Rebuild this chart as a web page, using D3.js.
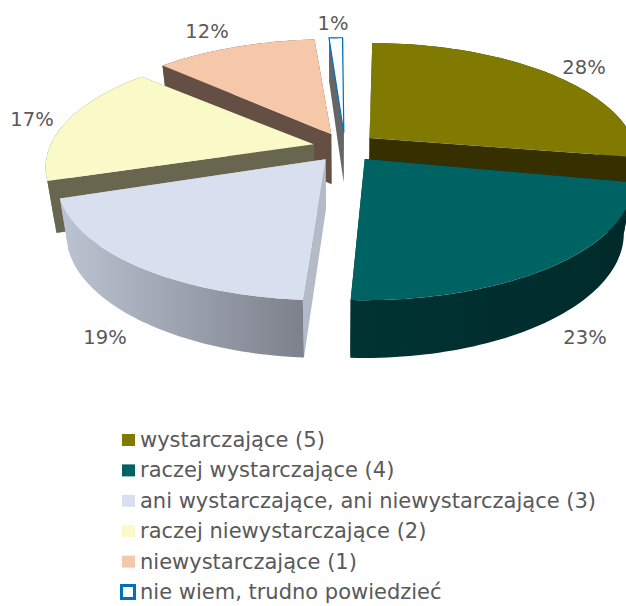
<!DOCTYPE html>
<html><head><meta charset="utf-8">
<script src="https://cdn.jsdelivr.net/npm/d3@7/dist/d3.min.js"></script>
<style>html,body{margin:0;padding:0;background:#fff;overflow:hidden}svg{display:block}
text{font-family:"DejaVu Sans",sans-serif;fill:#595959}</style></head>
<body><script>
const categories = ["wystarczające (5)","raczej wystarczające (4)","ani wystarczające, ani niewystarczające (3)","raczej niewystarczające (2)","niewystarczające (1)","nie wiem, trudno powiedzieć"];
const values = [28,23,19,17,12,1];
const topColors = ["#807b00","#006363","#d8dfee","#fafac8","#f5c8a9","#ffffff"];
const radialWallColors = ["#363000","#002b2b","#b3bac8","#69664f","#654f44","#666666"];
const rimStart = ["#363000","#013333","#bcc4d2","#69664f","#654f44","#666666"];
const rimEnd = ["#363000","#002a2a","#7d818c","#69664f","#654f44","#666666"];
const labelPos = [[584,67],[585,337],[105,337],[32,119],[207,31],[333,23]];

const W=626,H=606,cx=345,cy=147.5,R=263,Ry=113.6,k=0.195,depth=50,qx=0.969,qy=1.055,xc=340;
const explodeX=32/R,explodeY=14.7/Ry,rot=-0.3*Math.PI/180,trim=0.98;
const svg=d3.select("body").append("svg").attr("width",W).attr("height",H);
const defs=svg.append("defs");
const sx=d3.scaleLinear().domain([-1,1]).range([cx-R,cx+R]);
const sy=d3.scaleLinear().domain([-1,1]).range([cy-Ry,cy+Ry]);
const arcs=d3.pie().value(d=>d).sort(null).startAngle(rot).endAngle(2*Math.PI+rot)(values).map(a=>{
  const m=(a.startAngle+a.endAngle)/2,h=(a.endAngle-a.startAngle)/2*trim;
  return {...a,startAngle:m-h,endAngle:m+h};
});
const line=d3.line().curve(d3.curveLinear);

function apex(a){const m=(a.startAngle+a.endAngle)/2;
  return [sx(Math.sin(m)*explodeX),sy(-Math.cos(m)*explodeY)];}
function topPt(a,t){const A=apex(a);if(t===null)return A;
  const u=Math.sin(t),v=-Math.cos(t),s=1/(1-k*v);
  return [A[0]+(sx(u*s)-sx(0)),A[1]+(sy(v*s)-sy(0))];}
function botPt(a,t){const A=apex(a),P=topPt(a,t);
  return [xc+(P[0]-xc)*qx, A[1]+depth+(P[1]-A[1])*qy];}
const N=60;
function rimAngles(a){return d3.range(N+1).map(i=>a.startAngle+(a.endAngle-a.startAngle)*i/N);}

const g=svg.append("g");
arcs.forEach((a,i)=>{
  const grad=defs.append("linearGradient").attr("id","rim"+i).attr("gradientUnits","userSpaceOnUse");
  const ra=rimAngles(a).map(t=>topPt(a,t)[0]);
  grad.attr("x1",d3.min(ra)).attr("x2",d3.max(ra)).attr("y1",0).attr("y2",0);
  grad.append("stop").attr("offset",0).attr("stop-color",rimStart[i]);
  grad.append("stop").attr("offset",1).attr("stop-color",rimEnd[i]);
});
[5,4,3,0,2,1].forEach(i=>{
  const a=arcs[i];const isBlue=i===5;
  const gs=g.append("g");
  [a.startAngle,a.endAngle].forEach(t=>{
    const pts=[topPt(a,null),topPt(a,t),botPt(a,t),botPt(a,null)];
    gs.append("path").attr("d",line(pts)+"Z").attr("fill",radialWallColors[i]);
  });
  const tAngles=rimAngles(a);
  const rim=tAngles.map(t=>topPt(a,t)).concat(tAngles.slice().reverse().map(t=>botPt(a,t)));
  gs.append("path").attr("d",line(rim)+"Z").attr("fill",`url(#rim${i})`);
  if(isBlue){
    gs.append("path").attr("d",line([topPt(a,a.endAngle),botPt(a,a.endAngle)])).attr("stroke","#0070c0").attr("stroke-width",1.2).attr("fill","none");
  }
  const top=[topPt(a,null)].concat(tAngles.map(t=>topPt(a,t)));
  gs.append("path").attr("d",line(top)+"Z").attr("fill",topColors[i])
    .attr("stroke",isBlue?"#0070c0":"none").attr("stroke-width",isBlue?1.2:0);
});

svg.selectAll("text.lab").data(values).join("text").attr("class","lab")
  .attr("x",(d,i)=>labelPos[i][0]).attr("y",(d,i)=>labelPos[i][1])
  .attr("text-anchor","middle").attr("dominant-baseline","central")
  .attr("font-size",19.5).text(d=>d+"%");

const ly=d3.scalePoint().domain(categories).range([440,592]);
const leg=svg.selectAll("g.leg").data(categories).join("g").attr("class","leg")
  .attr("transform",d=>`translate(0,${ly(d)})`);
leg.append("rect").attr("x",(d,i)=>i===5?121.5:122).attr("y",(d,i)=>i===5?-6.5:-6)
  .attr("width",13).attr("height",(d,i)=>i===5?13:12)
  .attr("fill",(d,i)=>topColors[i]).attr("stroke",(d,i)=>i===5?"#0070c0":"none").attr("stroke-width",3);
leg.append("text").attr("x",140).attr("dominant-baseline","central").attr("font-size",21).text(d=>d);
</script></body></html>
